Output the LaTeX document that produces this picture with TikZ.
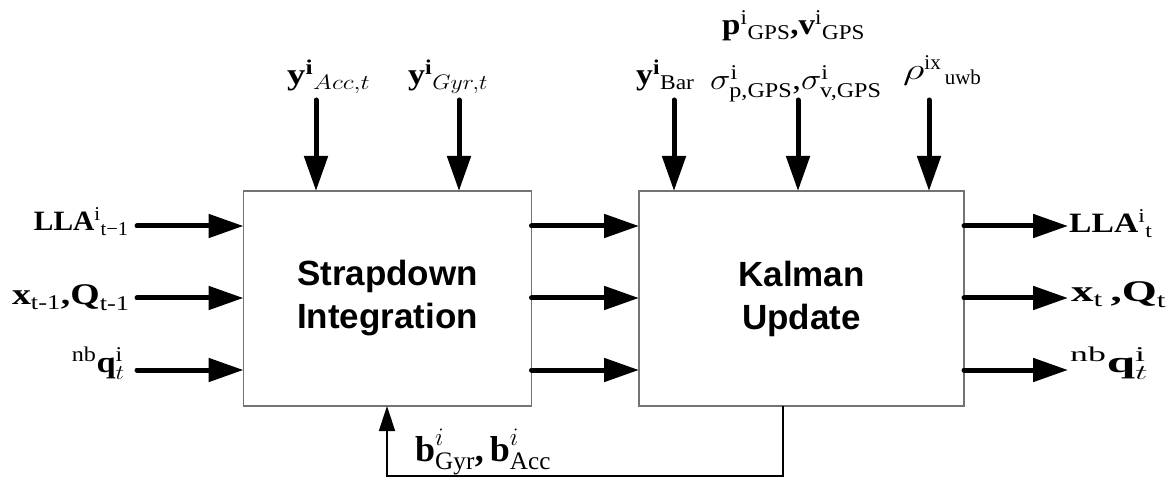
\RequirePackage{fix-cm}
\documentclass[tikz,border=0pt]{standalone}
\usepackage{amsmath}
\usepackage{graphicx}
\usepackage{fontspec}
\setmainfont{Liberation Serif}
\setsansfont{Liberation Sans}
\usetikzlibrary{arrows.meta}
\newcommand\tb[1]{\textbf{#1}}
\newcommand\tr[1]{\textrm{#1}}
\newcommand\sx[2]{\scalebox{#1}[1]{#2}}
\begin{document}
\begin{tikzpicture}[x=1pt,y=-1pt,
  blk/.style={draw=black!55, line width=1.5pt, minimum height=215pt, inner sep=0pt, outer sep=0pt,
    align=center, font=\sffamily\bfseries\fontsize{35}{43}\selectfont},
  sig/.style={line width=5pt, line cap=round, -{Triangle[length=35pt,width=23pt]}},
  fb/.style={line width=1.5pt, -{Triangle[length=25pt,width=16pt]}},
  lab/.style={inner sep=0pt, font=\fontsize{30}{36}\selectfont},
  labs/.style={inner sep=0pt, font=\fontsize{28}{34}\selectfont},
  labb/.style={inner sep=0pt, font=\fontsize{36}{42}\selectfont},
]
\useasboundingbox (0,0) rectangle (1173,478);

% boxes
\node[blk, minimum width=288pt] (b1) at (387.5,298.5) {Strapdown\\Integration};
\node[blk, minimum width=325pt] (b2) at (801.5,298.5) {Kalman\\Update};

% row coordinates
\coordinate (r1) at (0,226);
\coordinate (r2) at (0,298);
\coordinate (r3) at (0,370);
\coordinate (l1) at (137,226);
\coordinate (l2) at (137,298);
\coordinate (l3) at (137,370);
\coordinate (o1) at (1068,226);
\coordinate (o2) at (1068,298);
\coordinate (o3) at (1068,370);

% left inputs
\node[labs, anchor=base east] (inLLA) at (129,231) {\sx{1.05}{$\tb{LLA}^{\tr{i}}{}_{\tr{t−1}}$}};
\node[lab, anchor=base east] (inxQ) at (130,305) {\sx{1.26}{$\tb{x}_{\tr{t-1}}\tb{,}\tb{Q}_{\tr{t-1}}$}};
\node[lab, anchor=base east] (inq) at (125,372) {\sx{1.15}{${}^{\tr{nb}}\tb{q}^{\tr{i}}_{t}$}};
\draw[sig] (l1) -- (l1 -| b1.west);
\draw[sig] (l2) -- (l2 -| b1.west);
\draw[sig] (l3) -- (l3 -| b1.west);

% between boxes
\draw[sig] (b1.east |- r1) -- (b2.west |- r1);
\draw[sig] (b1.east |- r2) -- (b2.west |- r2);
\draw[sig] (b1.east |- r3) -- (b2.west |- r3);

% outputs
\draw[sig] (b2.east |- r1) -- (o1);
\draw[sig] (b2.east |- r2) -- (o2);
\draw[sig] (b2.east |- r3) -- (o3);
\node[labs, anchor=base west] (outLLA) at (1069,233) {\sx{1.2}{$\tb{LLA}^{\tr{i}}{}_{\tr{t}}$}};
\node[lab, anchor=base west] (outxQ) at (1071,302) {\sx{1.5}{$\tb{x}_{\tr{t}}\,\tb{,}\tb{Q}_{\tr{t}}$}};
\node[lab, anchor=base west] (outq) at (1070,372) {\sx{1.7}{${}^{\tr{nb}}\tb{q}^{\tr{i}}_{t}$}};

% top inputs
\coordinate (tAcc) at (316,100);
\coordinate (tGyr) at (459,100);
\coordinate (tBar) at (674,100);
\coordinate (tGPS) at (798,100);
\coordinate (tuwb) at (929,100);
\draw[sig] (tAcc) -- (tAcc |- b1.north);
\draw[sig] (tGyr) -- (tGyr |- b1.north);
\draw[sig] (tBar) -- (tBar |- b2.north);
\draw[sig] (tGPS) -- (tGPS |- b2.north);
\draw[sig] (tuwb) -- (tuwb |- b2.north);

\node[lab, anchor=base west] (yAcc) at (287,85) {\sx{1.22}{$\tb{y}^{\tb{i}}{}_{Acc,t}$}};
\node[lab, anchor=base west] (yGyr) at (408,85) {\sx{1.13}{$\tb{y}^{\tb{i}}{}_{Gyr,t}$}};
\node[lab, anchor=base west] (yBar) at (636,85) {\sx{1.12}{$\tb{y}^{\tb{i}}{}_{\tr{Bar}}$}};
\node[lab, anchor=base west] (pv) at (722,35) {\sx{1.1}{$\tb{p}^{\tr{i}}{}_{\tr{GPS}}\tb{,}\tb{v}^{\tr{i}}{}_{\tr{GPS}}$}};
\node[lab, anchor=base west] (sig) at (710,90) {\sx{1.15}{$\sigma^{\tr{i}}_{\tr{p,GPS}}\tr{,}\sigma^{\tr{i}}_{\tr{v,GPS}}$}};
\node[lab, anchor=base west] (rho) at (903,80) {$\sx{1.4}{$\rho$}^{\tr{ix}}{}_{\,\tr{uwb}}$};

% feedback
\coordinate (f1) at (783,476);
\coordinate (f2) at (387,476);
\draw[fb] (b2.south -| f1) -- (f1) -- (f2) -- (b1.south -| f2);
\node[labb, anchor=base west] (bias) at (415,461) {$\tb{b}^{i}_{\tr{Gyr}}\tb{,}\,\tb{b}^{i}_{\tr{Acc}}$};
\end{tikzpicture}
\end{document}
